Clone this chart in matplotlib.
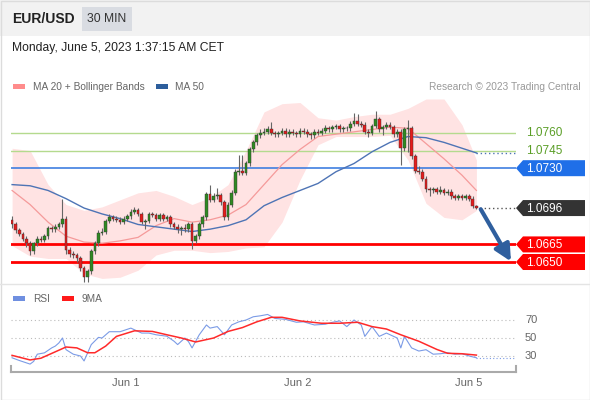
import numpy as np
import matplotlib.pyplot as plt
from matplotlib.patches import Rectangle, Polygon

plt.rcParams['font.family'] = ['Liberation Sans', 'DejaVu Sans']

# ---- 30 min EUR/USD candles ----
first_open = 1.0686
closes = [1.0682, 1.0677, 1.0674, 1.0670, 1.0666, 1.0659, 1.0666, 1.0670, 1.0669, 1.0672,
          1.0679, 1.0678, 1.0680, 1.0682, 1.0687, 1.0660, 1.0657, 1.0656, 1.0653, 1.0645,
          1.0637, 1.0642, 1.0659, 1.0666, 1.0675, 1.0676, 1.0685, 1.0688, 1.0687, 1.0686,
          1.0684, 1.0687, 1.0689, 1.0693, 1.0694, 1.0691, 1.0684, 1.0685, 1.0691, 1.0690,
          1.0687, 1.0690, 1.0687, 1.0688, 1.0682, 1.0680, 1.0678, 1.0679, 1.0678, 1.0682,
          1.0668, 1.0672, 1.0682, 1.0688, 1.0708, 1.0703, 1.0706, 1.0707, 1.0701, 1.0688,
          1.0699, 1.0709, 1.0727, 1.0728, 1.0726, 1.0734, 1.0746, 1.0752, 1.0758, 1.0760,
          1.0761, 1.0763, 1.0760, 1.0759, 1.0760, 1.0762, 1.0759, 1.0761, 1.0760, 1.0759,
          1.0762, 1.0761, 1.0759, 1.0758, 1.0761, 1.0760, 1.0762, 1.0764, 1.0763, 1.0765,
          1.0766, 1.0763, 1.0764, 1.0764, 1.0768, 1.0770, 1.0768, 1.0767, 1.0761, 1.0760,
          1.0766, 1.0772, 1.0763, 1.0765, 1.0767, 1.0765, 1.0759, 1.0761, 1.0747, 1.0763,
          1.0764, 1.0740, 1.0728, 1.0727, 1.0721, 1.0712, 1.0711, 1.0712, 1.0710, 1.0711,
          1.0709, 1.0710, 1.0706, 1.0705, 1.0706, 1.0705, 1.0706, 1.0704, 1.0698, 1.0696]
highs = [1.0689, 1.0684, 1.0679, 1.0676, 1.0672, 1.0668, 1.0667, 1.0672, 1.0672, 1.0674,
         1.0681, 1.0681, 1.0682, 1.0684, 1.0704, 1.0689, 1.0663, 1.0659, 1.0658, 1.0655,
         1.0647, 1.0644, 1.0661, 1.0668, 1.0677, 1.0679, 1.0687, 1.0691, 1.0690, 1.0689,
         1.0688, 1.0689, 1.0691, 1.0695, 1.0697, 1.0696, 1.0693, 1.0687, 1.0693, 1.0693,
         1.0692, 1.0692, 1.0692, 1.0690, 1.0690, 1.0684, 1.0682, 1.0681, 1.0682, 1.0684,
         1.0684, 1.0674, 1.0684, 1.0690, 1.0710, 1.0716, 1.0709, 1.0713, 1.0709, 1.0703,
         1.0701, 1.0711, 1.0729, 1.0741, 1.0741, 1.0736, 1.0748, 1.0754, 1.0760, 1.0763,
         1.0764, 1.0766, 1.0769, 1.0762, 1.0762, 1.0764, 1.0764, 1.0763, 1.0763, 1.0762,
         1.0764, 1.0764, 1.0763, 1.0761, 1.0763, 1.0763, 1.0764, 1.0767, 1.0766, 1.0767,
         1.0768, 1.0768, 1.0766, 1.0766, 1.0770, 1.0777, 1.0776, 1.0770, 1.0769, 1.0763,
         1.0768, 1.0779, 1.0774, 1.0767, 1.0769, 1.0769, 1.0767, 1.0763, 1.0763, 1.0765,
         1.0771, 1.0766, 1.0742, 1.0732, 1.0729, 1.0723, 1.0714, 1.0714, 1.0714, 1.0715,
         1.0713, 1.0712, 1.0712, 1.0708, 1.0708, 1.0708, 1.0708, 1.0708, 1.0706, 1.0699]
lows = [1.0679, 1.0675, 1.0672, 1.0668, 1.0663, 1.0656, 1.0657, 1.0664, 1.0667, 1.0667,
        1.0670, 1.0676, 1.0676, 1.0678, 1.0680, 1.0657, 1.0654, 1.0653, 1.0650, 1.0642,
        1.0633, 1.0633, 1.0640, 1.0657, 1.0664, 1.0673, 1.0674, 1.0683, 1.0685, 1.0684,
        1.0682, 1.0682, 1.0685, 1.0687, 1.0691, 1.0689, 1.0682, 1.0678, 1.0683, 1.0688,
        1.0685, 1.0685, 1.0685, 1.0685, 1.0680, 1.0678, 1.0675, 1.0673, 1.0676, 1.0676,
        1.0661, 1.0666, 1.0670, 1.0680, 1.0686, 1.0701, 1.0701, 1.0704, 1.0699, 1.0686,
        1.0686, 1.0697, 1.0707, 1.0724, 1.0724, 1.0724, 1.0732, 1.0744, 1.0750, 1.0756,
        1.0758, 1.0759, 1.0758, 1.0757, 1.0757, 1.0758, 1.0757, 1.0757, 1.0758, 1.0757,
        1.0757, 1.0759, 1.0757, 1.0755, 1.0756, 1.0758, 1.0758, 1.0760, 1.0761, 1.0761,
        1.0763, 1.0761, 1.0761, 1.0762, 1.0762, 1.0766, 1.0766, 1.0765, 1.0759, 1.0757,
        1.0758, 1.0764, 1.0761, 1.0758, 1.0763, 1.0763, 1.0757, 1.0757, 1.0733, 1.0745,
        1.0744, 1.0738, 1.0726, 1.0725, 1.0719, 1.0710, 1.0706, 1.0709, 1.0708, 1.0708,
        1.0707, 1.0707, 1.0704, 1.0703, 1.0703, 1.0703, 1.0703, 1.0702, 1.0696, 1.0695]

# indicators, read every 5 candles
band_idx = [0, 5, 10, 15, 20, 25, 30, 35, 40, 45, 50, 55, 60, 65, 70, 75, 80, 85, 90,
            95, 100, 105, 110, 115, 120, 125, 129]
ma20 = [1.0711, 1.0699, 1.0684, 1.0672, 1.0667, 1.0666, 1.0668, 1.0671, 1.0681, 1.0687,
        1.0684, 1.0686, 1.0690, 1.0699, 1.0716, 1.0733, 1.0746, 1.0757, 1.0759, 1.0761,
        1.0763, 1.0765, 1.0764, 1.0751, 1.0738, 1.0724, 1.0711]
ma50 = [1.0716, 1.0715, 1.0711, 1.0704, 1.0696, 1.0691, 1.0687, 1.0682, 1.0680, 1.0678,
        1.0676, 1.0678, 1.0681, 1.0686, 1.0698, 1.0705, 1.0711, 1.0717, 1.0727, 1.0734,
        1.0744, 1.0752, 1.0757, 1.0756, 1.0752, 1.0747, 1.0743]
bb_upper = [1.0747, 1.0745, 1.0716, 1.0699, 1.0694, 1.0697, 1.0703, 1.0709, 1.0711, 1.0706,
            1.0699, 1.0705, 1.0716, 1.0745, 1.0778, 1.0785, 1.0786, 1.0773, 1.0771, 1.0774,
            1.0776, 1.0776, 1.0781, 1.0789, 1.0789, 1.0767, 1.0737]
bb_lower = [1.0664, 1.0655, 1.0653, 1.0653, 1.0640, 1.0636, 1.0637, 1.0643, 1.0656, 1.0660,
            1.0660, 1.0658, 1.0659, 1.0662, 1.0663, 1.0684, 1.0720, 1.0750, 1.0757, 1.0757,
            1.0757, 1.0758, 1.0737, 1.0700, 1.0688, 1.0686, 1.0694]

# key levels
resistances = [1.0760, 1.0745]
pivot = 1.0730
last_price = 1.0696
supports = [1.0665, 1.0650]

# RSI panel
rsi_idx = [0, 2, 5, 6, 7, 9, 11, 12, 13, 14, 15, 17, 19, 20, 22, 24, 25, 27, 30, 33,
           36, 38, 40, 43, 45, 46, 48, 49, 50, 52, 54, 55, 57, 59, 61, 63, 65, 67, 69, 71,
           73, 76, 79, 81, 84, 87, 89, 91, 93, 95, 97, 98, 100, 102, 104, 106, 107, 108, 109, 111,
           113, 115, 117, 119, 121, 123, 125, 127, 129]
rsi_val = [28, 25, 21, 24, 32, 33.5, 39, 41, 44.5, 50, 37, 32, 30, 24.5, 42.7, 50.7, 50, 57, 57, 61,
           55.5, 55.5, 53.6, 52, 46.4, 42.7, 50, 46, 39, 53.6, 64.5, 61, 62.7, 53.6, 64.5, 68, 70, 73.6, 74.7, 76.2,
           71.8, 70.7, 67.5, 68, 64.5, 65.3, 67.5, 69, 62.7, 70, 64.5, 51.8, 62.7, 51.8, 55.5, 51.8, 50, 39, 51.8, 39,
           35.5, 37, 32, 32.5, 33.6, 32, 32.5, 30, 28]
ma9_idx = [0, 5, 8, 15, 18, 21, 23, 26, 29, 34, 39, 43, 47, 51, 56, 60, 64, 68, 72, 75,
           80, 86, 91, 96, 100, 104, 108, 113, 118, 121, 125, 129]
ma9_val = [30.7, 25.6, 27.5, 40, 39, 33.6, 33.6, 41, 51.8, 58, 57.3, 53.6, 50, 45.6, 50, 57.3,
           61.6, 68, 73, 73, 69, 66.4, 66.4, 67.5, 62.7, 60, 53.6, 46.4, 37.3, 33, 32.5, 31]
rsi_levels = [70, 50, 30]

day_labels = ['Jun 1', 'Jun 2', 'Jun 5']
day_pos = [31.5, 79.3, 126.8]

W, H = 590, 400
fig = plt.figure(figsize=(W / 100, H / 100), dpi=100)
fig.patch.set_facecolor('white')

# background layer in pixel coordinates (y from top)
bg = fig.add_axes([0, 0, 1, 1], zorder=0)
bg.set_xlim(0, W)
bg.set_ylim(H, 0)
bg.axis('off')
bg.add_patch(Rectangle((0, 0), W, 36, color='#f2f2f2', lw=0))
bg.add_patch(Rectangle((0.5, 0.5), W - 1, H - 1, fill=False, ec='#dcdcdc', lw=1))
bg.text(12, 19, 'EUR/USD', fontsize=10, fontweight='bold', va='center', color='#222222')
bg.add_patch(Rectangle((82, 7), 50, 24, color='#d9dce2', lw=0))
bg.text(107, 19, '30 MIN', fontsize=8.7, ha='center', va='center', color='#333333')
bg.text(12, 48, 'Monday, June 5, 2023 1:37:15 AM CET', fontsize=8.7, va='center', color='#222222')

bg.add_patch(Rectangle((13, 84), 12, 5, color='#ff8c8c', lw=0))
bg.text(33, 86.5, 'MA 20 + Bollinger Bands', fontsize=7.3, va='center', color='#666666')
bg.add_patch(Rectangle((156, 84), 12, 5, color='#2d5e9c', lw=0))
bg.text(175, 86.5, 'MA 50', fontsize=7.3, va='center', color='#666666')
bg.text(581, 86.5, 'Research \u00a9 2023 Trading Central', fontsize=7.3, ha='right',
        va='center', color='#999999')
bg.plot([0, W], [284, 284], color='#e4e4e4', lw=1)
bg.add_patch(Rectangle((13, 296), 12, 5, color='#6f8fe0', lw=0))
bg.text(33, 298.5, 'RSI', fontsize=7.3, va='center', color='#666666')
bg.add_patch(Rectangle((62, 296), 12, 5, color='#ff1a1a', lw=0))
bg.text(82, 298.5, '9MA', fontsize=7.3, va='center', color='#666666')

# ---- main price panel ----
x0, x1 = -0.3, 140.0
ax = fig.add_axes([11 / W, (H - 283) / H, 505 / W, 188 / H], zorder=1)
ax.set_facecolor('none')
ax.set_xlim(x0, x1)
ax.set_ylim(1.06321, 1.07924)
ax.axis('off')

ax.fill_between(band_idx, bb_lower, bb_upper, color='#ffe3e3', lw=0, zorder=1)
for lv in resistances:
    ax.axhline(lv, color='#b4da8e', lw=1, zorder=2)
ax.axhline(pivot, color='#3f7fe0', lw=1.2, zorder=2)
for lv in supports:
    ax.axhline(lv, color='#ff0000', lw=2, zorder=2)
ax.plot(band_idx, ma20, color='#f59a9a', lw=0.9, zorder=3)
ax.plot(band_idx, ma50, color='#4e74b5', lw=1, zorder=3)
ax.plot([band_idx[-1], x1], [ma50[-1]] * 2, color='#4e74b5', lw=1, ls=(0, (1, 2)), zorder=3)

n = len(closes)
idx = np.arange(n)
opens = np.array([first_open] + closes[:-1])
cl = np.array(closes)
hi = np.maximum(np.array(highs), np.maximum(opens, cl))
lo = np.minimum(np.array(lows), np.minimum(opens, cl))
up = cl >= opens
ax.vlines(idx, lo, hi, color='#666666', lw=0.8, zorder=4)
body_bot = np.minimum(opens, cl)
body_h = np.maximum(np.abs(cl - opens), 0.00004)
ax.bar(idx, body_h, bottom=body_bot, width=0.75,
       color=np.where(up, '#2f8a22', '#e51c1c'), edgecolor='#333333', lw=0.3, zorder=5)

ax.plot([n, x1], [last_price] * 2, color='#555555', lw=1, ls=(0, (1, 2)), zorder=3)
ax.annotate('', xy=(138.6, supports[1] + 0.00005), xytext=(n + 0.2, last_price - 0.0001),
            arrowprops=dict(arrowstyle='-|>,head_width=0.45,head_length=0.9', lw=3,
                            color='#2f5f9e', mutation_scale=11, shrinkA=0, shrinkB=0),
            annotation_clip=False, zorder=6)


def ypix(level):
    return H - ax.transData.transform((0, level))[1]


def tag(level, txt, fc):
    y = ypix(level)
    bg.add_patch(Polygon([(516, y), (523, y - 8), (585, y - 8), (585, y + 8), (523, y + 8)],
                         closed=True, color=fc, lw=0))
    bg.text(526, y + 0.5, txt, fontsize=8.5, color='white', va='center')


for lv in resistances:
    bg.text(526, ypix(lv) + 0.5, '%.4f' % lv, fontsize=8.5, color='#5a9e26', va='center')
tag(pivot, '%.4f' % pivot, '#1f6fe8')
tag(last_price, '%.4f' % last_price, '#333333')
for lv in supports:
    tag(lv, '%.4f' % lv, '#ff0000')

# ---- RSI panel ----
ax2 = fig.add_axes([11 / W, (H - 372) / H, 505 / W, 67 / H], zorder=1)
ax2.set_facecolor('none')
ax2.set_xlim(x0, x1)
ylo, yhi = 12.2, 86.7
ax2.set_ylim(ylo, yhi)
for lv in rsi_levels:
    ax2.axhline(lv, color='#bbbbbb', lw=0.8, ls=(0, (1, 2.5)))
    bg.text(525, H - ax2.transData.transform((0, lv))[1], str(lv), fontsize=8,
            color='#666666', va='center')
ax2.plot(rsi_idx, rsi_val, color='#7b9be6', lw=0.8)
ax2.plot([rsi_idx[-1], x1], [rsi_val[-1]] * 2, color='#7b9be6', lw=0.8, ls=(0, (1, 2)))
ax2.plot(ma9_idx, ma9_val, color='#ff2a2a', lw=1.1)
for s in ['top', 'right', 'left']:
    ax2.spines[s].set_visible(False)
ax2.spines['bottom'].set_color('#aaaaaa')
ax2.spines['bottom'].set_linewidth(1.5)
for xe in (x0, x1):
    ax2.plot([xe, xe], [ylo, ylo + 6.5], color='#aaaaaa', lw=1.5, clip_on=False)
ax2.set_yticks([])
ax2.set_xticks(day_pos)
ax2.set_xticklabels(day_labels)
ax2.tick_params(axis='x', length=0, pad=4, labelsize=8, labelcolor='#666666')

fig.savefig('out.png', dpi=100)
